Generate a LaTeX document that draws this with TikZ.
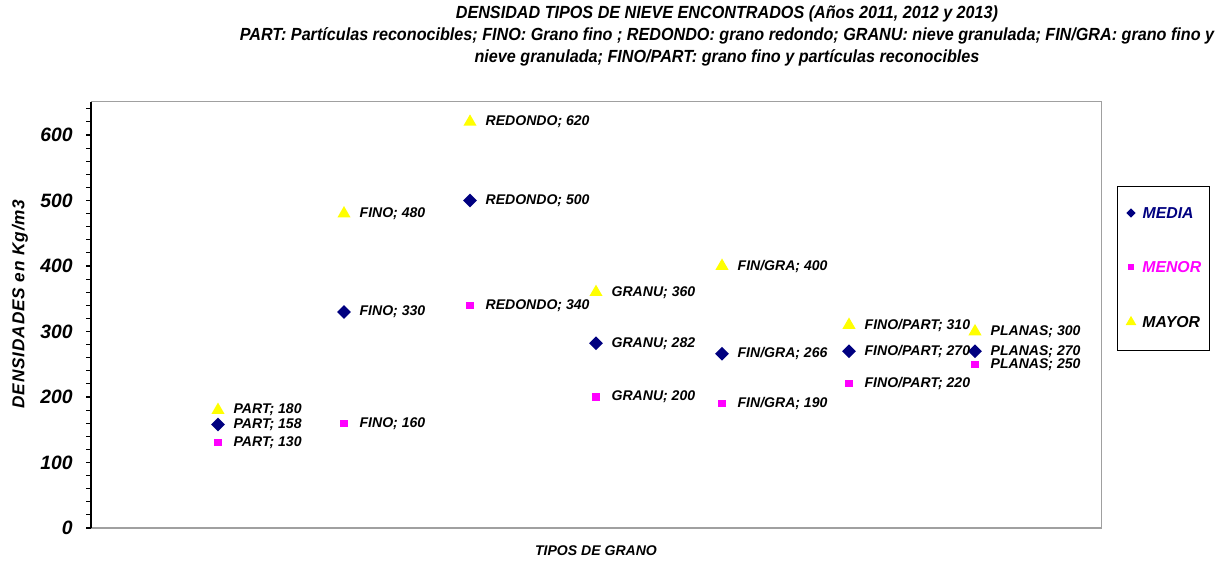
\documentclass[tikz,border=0pt]{standalone}
\usepackage{fontspec}
\setmainfont{Liberation Sans}
\newfontfamily\narrowfont{Liberation Sans}[FakeStretch=0.92]
\newfontfamily\spacedfont{Liberation Sans}[LetterSpace=5]
\usetikzlibrary{shapes,positioning}

\definecolor{media}{HTML}{000080}
\definecolor{menor}{HTML}{FF00FF}
\definecolor{mayor}{HTML}{FFFF00}
\definecolor{marco}{HTML}{A0A0A0}

\newcommand{\lblfont}{\fontsize{8}{9.6}\selectfont\bfseries\itshape}
\newcommand{\numfont}{\fontsize{11}{13}\selectfont\bfseries\itshape}
\newcommand{\legfont}{\fontsize{9}{11}\selectfont\bfseries\itshape}
\newcommand{\ttlfont}{\fontsize{10}{12.5}\selectfont\narrowfont\bfseries\itshape}

\begin{document}
\begin{tikzpicture}[x=0.02cm,y=-0.02cm,
    lbl/.style={font=\lblfont,inner sep=0pt},
    legl/.style={font=\legfont,inner sep=0pt},
    med/.style={diamond,fill=media,inner sep=0pt,minimum size=8pt},
    men/.style={rectangle,fill=menor,inner sep=0pt,minimum size=4pt},
    may/.style={regular polygon,regular polygon sides=3,fill=mayor,inner sep=0pt,minimum size=8.6pt},
    ynum/.style={font=\numfont,anchor=east,inner sep=0pt}]
  \useasboundingbox (0,0) rectangle (1218,565);

  % titulo
  \node[font=\ttlfont,align=center] (titulo) at (727,36) {DENSIDAD TIPOS DE NIEVE ENCONTRADOS (Años 2011, 2012 y 2013)\\
    PART: Partículas reconocibles; FINO: Grano fino ; REDONDO: grano redondo; GRANU: nieve granulada; FIN/GRA: grano fino y\\
    nieve granulada; FINO/PART: grano fino y partículas reconocibles};

  % marco y eje
  \draw[marco,line width=0.9pt] (91,101.7) -- (1101.7,101.7) -- (1101.7,528) -- (91,528);
  \draw[black,line width=0.6pt] (91,101.7) -- (91,528);
  \foreach \v in {0,20,...,640}
    \draw[black,line width=0.6pt] (86,{528-0.655*\v}) -- (91,{528-0.655*\v});
  \foreach \v in {0,100,...,600}
    \node[ynum] (y\v) at (73,{528-0.655*\v}) {\v};

  \node[font=\fontsize{9.8}{11}\selectfont\spacedfont\bfseries\itshape,rotate=90] (ytit) at (20,304) {DENSIDADES en Kg/m3};
  \node[font=\lblfont] (xtit) at (596,551) {TIPOS DE GRANO};

  % MAYOR
  \node[may] (may1) at (218,410.1) {};
  \node[may] (may2) at (344,213.6) {};
  \node[may] (may3) at (470,121.9) {};
  \node[may] (may4) at (596,292.2) {};
  \node[may] (may5) at (722,266) {};
  \node[may] (may6) at (849,325) {};
  \node[may] (may7) at (975,331.5) {};
  \node[lbl,right=6pt of may1] (tmay1) {PART; 180};
  \node[lbl,right=6pt of may2] (tmay2) {FINO; 480};
  \node[lbl,right=6pt of may3] (tmay3) {REDONDO; 620};
  \node[lbl,right=6pt of may4] (tmay4) {GRANU; 360};
  \node[lbl,right=6pt of may5] (tmay5) {FIN/GRA; 400};
  \node[lbl,right=6pt of may6] (tmay6) {FINO/PART; 310};
  \node[lbl,right=6pt of may7] (tmay7) {PLANAS; 300};

  % MEDIA
  \node[med] (med1) at (218,424.5) {};
  \node[med] (med2) at (344,311.9) {};
  \node[med] (med3) at (470,200.5) {};
  \node[med] (med4) at (596,343.3) {};
  \node[med] (med5) at (722,353.8) {};
  \node[med] (med6) at (849,351.2) {};
  \node[med] (med7) at (975,351.2) {};
  \node[lbl,right=4.5pt of med1] (tmed1) {PART; 158};
  \node[lbl,right=4.5pt of med2] (tmed2) {FINO; 330};
  \node[lbl,right=4.5pt of med3] (tmed3) {REDONDO; 500};
  \node[lbl,right=4.5pt of med4] (tmed4) {GRANU; 282};
  \node[lbl,right=4.5pt of med5] (tmed5) {FIN/GRA; 266};
  \node[lbl,right=4.5pt of med6] (tmed6) {FINO/PART; 270};
  \node[lbl,right=4.5pt of med7] (tmed7) {PLANAS; 270};

  % MENOR
  \node[men] (men1) at (218,442.9) {};
  \node[men] (men2) at (344,423.2) {};
  \node[men] (men3) at (470,305.3) {};
  \node[men] (men4) at (596,397) {};
  \node[men] (men5) at (722,403.6) {};
  \node[men] (men6) at (849,383.9) {};
  \node[men] (men7) at (975,364.3) {};
  \node[lbl,right=6.5pt of men1] (tmen1) {PART; 130};
  \node[lbl,right=6.5pt of men2] (tmen2) {FINO; 160};
  \node[lbl,right=6.5pt of men3] (tmen3) {REDONDO; 340};
  \node[lbl,right=6.5pt of men4] (tmen4) {GRANU; 200};
  \node[lbl,right=6.5pt of men5] (tmen5) {FIN/GRA; 190};
  \node[lbl,right=6.5pt of men6] (tmen6) {FINO/PART; 220};
  \node[lbl,right=6.5pt of men7] (tmen7) {PLANAS; 250};

  % leyenda
  \node[draw,line width=0.6pt,minimum width=52.7pt,minimum height=93.6pt] (leyenda) at (1163.5,268.5) {};
  \node[med,minimum size=5.5pt] (lmed) at (1131,213) {};
  \node[men,minimum size=3.5pt] (lmen) at (1131,267) {};
  \node[may,minimum size=7pt] (lmay) at (1131,322) {};
  \node[legl,text=media,right=3.5pt of lmed] (tlmed) {MEDIA};
  \node[legl,text=menor,right=4.3pt of lmen] (tlmen) {MENOR};
  \node[legl,right=4pt of lmay] (tlmay) {MAYOR};
\end{tikzpicture}
\end{document}
